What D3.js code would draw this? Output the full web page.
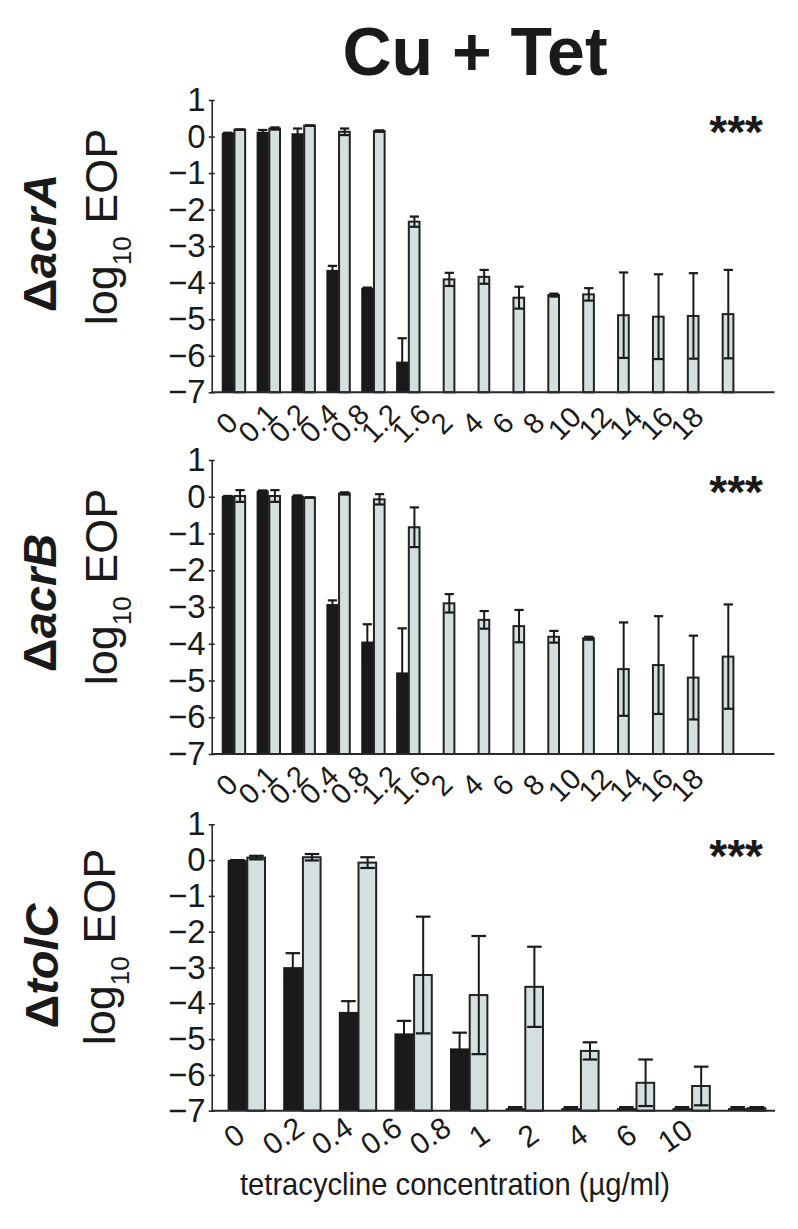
<!DOCTYPE html>
<html><head><meta charset="utf-8">
<script src="https://cdn.jsdelivr.net/npm/d3@7"></script>
<style>body{margin:0;background:#fff}svg{display:block}text{font-family:"Liberation Sans",Arial,sans-serif;fill:#1a1a1a}</style>
</head><body>
<script>
// ---------- DATA ----------
const concAB = ["0","0.1","0.2","0.4","0.8","1.2","1.6","2","4","6","8","10","12","14","16","18"];
const concTolC = ["0","0.2","0.4","0.6","0.8","1","2","4","6","10"];
const yTicks = [1,0,-1,-2,-3,-4,-5,-6,-7];

const acrA_cu    = [0.10,0.13,0.09,-3.65,-4.14,-6.16,null,null,null,null,null,null,null,null,null,null];
const acrA_cuErr = [0,0.05,0.13,0.11,0,0.64,null,null,null,null,null,null,null,null,null,null];
const acrA_tet    = [0.19,0.22,0.30,0.13,0.15,-2.33,-3.91,-3.84,-4.41,-4.34,-4.32,-4.89,-4.93,-4.91,-4.86,null];
const acrA_tetErr = [0,0.03,0,0.09,0.02,0.14,0.18,0.19,0.30,0.04,0.17,1.17,1.16,1.17,1.21,null];

const acrB_cu    = [0.02,0.165,0.03,-2.92,-3.94,-4.78,null,null,null,null,null,null,null,null,null,null];
const acrB_cuErr = [0,0,0,0.10,0.47,1.20,null,null,null,null,null,null,null,null,null,null];
const acrB_tet    = [0.02,0.02,-0.02,0.09,-0.07,-0.83,-2.90,-3.35,-3.52,-3.81,-3.85,-4.69,-4.58,-4.92,-4.35,null];
const acrB_tetErr = [0.16,0.16,0,0.03,0.14,0.54,0.25,0.24,0.44,0.16,0.04,1.27,1.33,1.14,1.42,null];

const tolC_cu    = [0,-2.99,-4.24,-4.84,-5.26,-6.93,-6.93,-6.93,-6.93,-6.93];
const tolC_cuErr = [0,0.39,0.30,0.35,0.44,0.03,0.03,0.03,0.03,0.03];
const tolC_tet    = [0.07,0.08,-0.07,-3.21,-3.77,-3.54,-5.33,-6.22,-6.31,-6.93];
const tolC_tetErr = [0.05,0.09,0.15,1.63,1.65,1.12,0.24,0.65,0.54,0.03];

// ---------- DRAW ----------
const W = 798, H = 1229;
const svg = d3.select("body").append("svg").attr("width", W).attr("height", H);
svg.append("rect").attr("width", W).attr("height", H).attr("fill", "#fff");

const DARK = "#1a1a1c", GRAY = "#d4dfdf";
const axisX = 211.7;

svg.append("text").attr("x", 475).attr("y", 75).attr("text-anchor", "middle")
  .attr("font-size", 68).attr("font-weight", "bold").text("Cu + Tet");

function panel(o) {
  const g = svg.append("g");
  const y = d3.scaleLinear().domain([-7, 1]).range([o.bottom, o.top]);
  const x = d3.scaleBand().domain(o.cats).range(o.xr).paddingInner(o.pi).paddingOuter(o.po);
  const bw = x.bandwidth() / 2;
  const base = y(-7);

  o.cats.forEach((c, i) => {
    const x0 = x(c);
    if (o.cu[i] != null) {
      g.append("rect").attr("x", x0).attr("width", bw)
        .attr("y", y(o.cu[i])).attr("height", base - y(o.cu[i])).attr("fill", DARK);
    }
    if (o.tet[i] != null) {
      g.append("rect").attr("x", x0 + bw + 0.5).attr("width", bw - 1.5)
        .attr("y", y(o.tet[i])).attr("height", base - y(o.tet[i]))
        .attr("fill", GRAY).attr("stroke", "#222").attr("stroke-width", 2);
    }
  });
  const cap = bw * 0.38;
  function err(cx, v, e) {
    if (v == null || e == null) return;
    const lo = Math.max(-7, v - e), hi = v + e;
    g.append("line").attr("x1", cx).attr("x2", cx).attr("y1", y(lo)).attr("y2", y(hi))
      .attr("stroke", DARK).attr("stroke-width", 2);
    [lo, hi].forEach(t => g.append("line").attr("x1", cx - cap).attr("x2", cx + cap)
      .attr("y1", y(t)).attr("y2", y(t)).attr("stroke", DARK).attr("stroke-width", 2.2));
  }
  o.cats.forEach((c, i) => {
    err(x(c) + bw / 2, o.cu[i], o.cuErr[i]);
    err(x(c) + bw * 1.5, o.tet[i], o.tetErr[i]);
  });

  g.append("line").attr("x1", axisX).attr("x2", o.xr[1]).attr("y1", base).attr("y2", base)
    .attr("stroke", "#2a2a2a").attr("stroke-width", 2);

  const ya = g.append("g").attr("transform", `translate(${axisX},0)`)
    .call(d3.axisLeft(y).tickValues(yTicks).tickSize(3).tickSizeOuter(0)
      .tickFormat(d => d < 0 ? "\u2212" + Math.abs(d) : String(d)));
  ya.select(".domain").attr("stroke", "#2a2a2a").attr("stroke-width", 1.6);
  ya.selectAll(".tick line").attr("x1", -3).attr("x2", 3).attr("stroke", "#2a2a2a").attr("stroke-width", 1.6);
  ya.selectAll(".tick text").attr("x", -6).attr("font-size", 33).attr("fill", DARK)
    .attr("font-family", '"Liberation Sans",Arial,sans-serif');

  const xl = d3.scalePoint().domain(o.cats).range(o.lr);
  o.cats.forEach(c => {
    g.append("text").attr("transform", `translate(${xl(c)},${base + o.ldy}) rotate(${o.rot})`)
      .attr("text-anchor", "middle").attr("dominant-baseline", "central")
      .attr("font-size", o.lfs).text(c);
  });

  g.append("text").attr("x", 763).attr("y", o.top + 48).attr("text-anchor", "end")
    .attr("font-size", 46).attr("font-weight", "bold").text("***");

  const gl = g.append("text").attr("transform", `translate(${o.gx},${o.gy}) rotate(-90)`)
    .attr("text-anchor", "middle").attr("font-size", 47).attr("font-weight", "bold");
  gl.append("tspan").text("\u0394");
  gl.append("tspan").attr("font-style", "italic").text(o.gene);

  const ll = g.append("text").attr("transform", `translate(${o.lx},${o.ly}) rotate(-90)`)
    .attr("text-anchor", "middle").attr("font-size", 45);
  ll.append("tspan").text("log");
  ll.append("tspan").attr("font-size", 26).attr("dy", 14).text("10");
  ll.append("tspan").attr("dy", -14).text(" EOP");
}

panel({cats: concAB, cu: acrA_cu, cuErr: acrA_cuErr, tet: acrA_tet, tetErr: acrA_tetErr,
  top: 100, bottom: 392.3, xr: [216.5, 774.5], pi: 0.3, po: 0.15,
  lr: [227, 687], ldy: 31, rot: -45, lfs: 29,
  gene: "acrA", gx: 56, gy: 243, lx: 117, ly: 227});
panel({cats: concAB, cu: acrB_cu, cuErr: acrB_cuErr, tet: acrB_tet, tetErr: acrB_tetErr,
  top: 460, bottom: 754, xr: [216.5, 774.5], pi: 0.3, po: 0.15,
  lr: [227, 687], ldy: 31, rot: -45, lfs: 29,
  gene: "acrB", gx: 56, gy: 603, lx: 117, ly: 587});
panel({cats: concTolC, cu: tolC_cu, cuErr: tolC_cuErr, tet: tolC_tet, tetErr: tolC_tetErr,
  top: 824.3, bottom: 1110.7, xr: [219, 775], pi: 0.31, po: 0.155,
  lr: [234, 675], ldy: 25, rot: -35, lfs: 30,
  gene: "tolC", gx: 58, gy: 966, lx: 115, ly: 947});

svg.append("text").attr("x", 455).attr("y", 1195).attr("text-anchor", "middle")
  .attr("font-size", 32).attr("textLength", 430).attr("lengthAdjust", "spacingAndGlyphs")
  .text("tetracycline concentration (\u00b5g/ml)");
</script>
</body></html>
